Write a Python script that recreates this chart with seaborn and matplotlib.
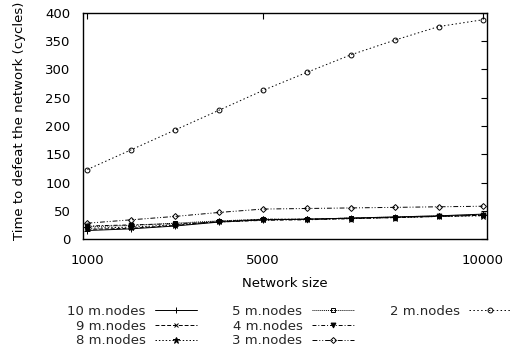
import matplotlib
matplotlib.use("Agg")
import matplotlib.pyplot as plt
from matplotlib.lines import Line2D
import seaborn as sns

# Network sizes (x axis)
network_size = [1000, 2000, 3000, 4000, 5000, 6000, 7000, 8000, 9000, 10000]

# Time to defeat the network (cycles) for each number of malicious nodes
nodes_10 = [15, 18, 23, 30, 34, 35, 37, 39, 41, 44]
nodes_9 = [17, 19, 24, 31, 34, 35, 37, 38, 40, 42]
nodes_8 = [19, 21, 25, 31, 35, 35, 36, 38, 40, 41]
nodes_5 = [22, 24, 28, 32, 35, 35, 37, 39, 41, 43]
nodes_4 = [23, 25, 27, 30, 33, 34, 36, 38, 40, 42]
nodes_3 = [28, 34, 40, 47, 53, 54, 55, 56, 57, 58]
nodes_2 = [123, 158, 193, 228, 263, 295, 326, 352, 376, 388]

series_labels = ["10 m.nodes", "9 m.nodes", "8 m.nodes", "5 m.nodes",
                 "4 m.nodes", "3 m.nodes", "2 m.nodes"]
series_values = [nodes_10, nodes_9, nodes_8, nodes_5, nodes_4, nodes_3, nodes_2]

x_ticks = [1000, 5000, 10000]
y_ticks = [0, 50, 100, 150, 200, 250, 300, 350, 400]

# gnuplot-like line and point styles
styles = [
    dict(linestyle="-", marker="+", markersize=5, markerfacecolor="black"),
    dict(linestyle=(0, (4, 2)), marker="x", markersize=3.5, markerfacecolor="black"),
    dict(linestyle=(0, (1.5, 2)), marker="*", markersize=4.5, markerfacecolor="black"),
    dict(linestyle=(0, (1, 1)), marker="s", markersize=3.5, markerfacecolor="none"),
    dict(linestyle=(0, (4, 2, 1, 2)), marker="v", markersize=3.5, markerfacecolor="black"),
    dict(linestyle=(0, (5, 2, 1, 2, 1, 2)), marker="D", markersize=3, markerfacecolor="none"),
    dict(linestyle=(0, (1.5, 2.5)), marker="o", markersize=3.5, markerfacecolor="none"),
]

sns.set_theme(style="white")
plt.rcParams["font.family"] = ["DejaVu Sans"]
plt.rcParams["font.size"] = 9.5

fig = plt.figure(figsize=(5.13, 3.54), dpi=100)
ax = fig.add_axes([83 / 513, 1 - 239 / 354, (487 - 83) / 513, (239 - 13) / 354])

for label, values, st in zip(series_labels, series_values, styles):
    sns.lineplot(x=network_size, y=values, ax=ax, color="black", linewidth=0.7,
                 markeredgecolor="black", markeredgewidth=0.7, label=label,
                 legend=False, **st)

ax.set_xlim(900, 10100)
ax.set_ylim(0, 400)
ax.set_xticks(x_ticks)
ax.set_xticklabels([str(t) for t in x_ticks])
ax.set_yticks(y_ticks)

for sp in ax.spines.values():
    sp.set_color("black")
    sp.set_linewidth(1.0)

ax.tick_params(axis="both", direction="in", top=True, right=True, length=4,
               width=0.8, colors="black", labelsize=9.5)
ax.tick_params(axis="y", pad=9)
ax.tick_params(axis="x", pad=11)

ax.set_xlabel("Network size", fontsize=9.5, color="black", labelpad=7)
ax.set_ylabel("Time to defeat the network (cycles)", fontsize=9.5, color="black")
ax.yaxis.set_label_coords(-0.141, 0.525)

handles = list(ax.lines[:7])
labels = list(series_labels)
blank = Line2D([], [], linestyle="none")
handles += [blank, blank]
labels += ["", ""]

fig.legend(handles, labels, loc="upper left", bbox_to_anchor=(67 / 513, 1 - 305 / 354),
           ncol=3, frameon=False, markerfirst=False, numpoints=1,
           handlelength=3.2, handletextpad=0.7, columnspacing=2.7,
           labelspacing=0.12, borderpad=0, borderaxespad=0, fontsize=9.5)

fig.savefig("out.png", dpi=100)
